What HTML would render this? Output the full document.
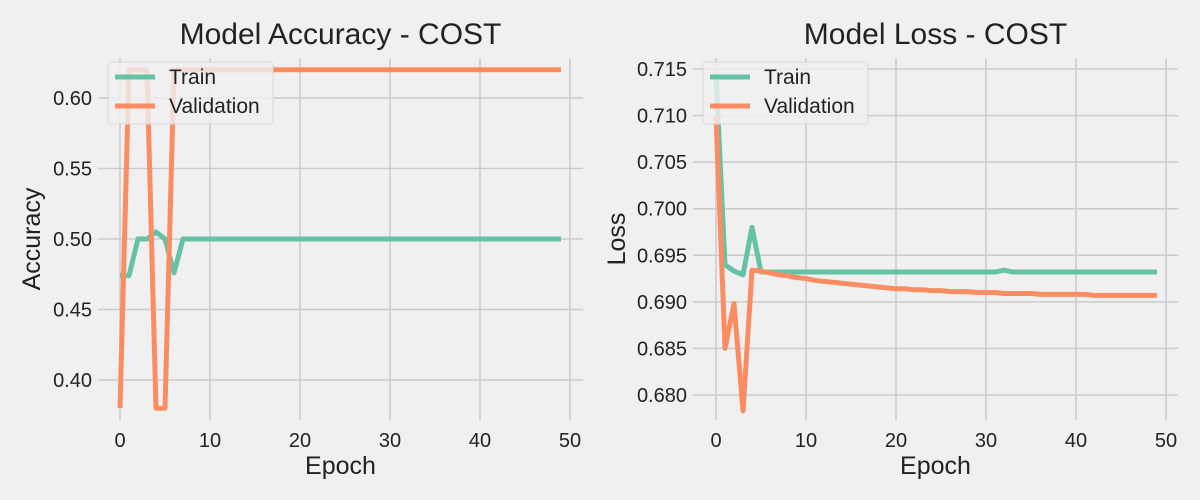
<!DOCTYPE html>
<html><head><meta charset="utf-8"><style>
body{margin:0;background:#f0f0f0;font-family:"Liberation Sans","DejaVu Sans",sans-serif}
svg{display:block}
</style></head><body>
<svg id="c" width="1200" height="500" xmlns="http://www.w3.org/2000/svg"></svg>
<script>
const epochs=[...Array(50).keys()];
const accTrain=[0.474,0.474,0.5,0.5,0.505,0.5,0.476].concat(Array(43).fill(0.5));
const accVal=[0.38,0.62,0.62,0.62,0.38,0.38,0.62].concat(Array(43).fill(0.62));
const lossTrain=[0.7145,0.694,0.6933,0.6929,0.698,0.6932].concat(Array(26).fill(0.6932),[0.6934],Array(17).fill(0.6932));
const lossVal=[0.7100,0.6850,0.6898,0.6783,0.6934,0.6933,0.6931,0.6929,0.6928,0.6926,0.6925,0.6923,0.6922,0.6921,0.6920,0.6919,0.6918,0.6917,0.6916,0.6915,0.6914,0.6914,0.6913,0.6913,0.6912,0.6912,0.6911,0.6911,0.6911,0.6910,0.6910,0.6910,0.6909,0.6909,0.6909,0.6909,0.6908,0.6908,0.6908,0.6908,0.6908,0.6908,0.6907,0.6907,0.6907,0.6907,0.6907,0.6907,0.6907,0.6907];
const xTicks=[0,10,20,30,40,50];
const accTicks=[0.40,0.45,0.50,0.55,0.60];
const lossTicks=[0.680,0.685,0.690,0.695,0.700,0.705,0.710,0.715];
const NS="http://www.w3.org/2000/svg";
const svg=document.getElementById('c');
function mk(t,a,p){const e=document.createElementNS(NS,t);for(const k in a)e.setAttribute(k,a[k]);(p||svg).appendChild(e);return e;}
function panel(o){
  const g=mk('g',{});
  
  
  const L=o.left,R=o.right,T=58,B=420;
  const X=v=>o.x0+v*9;
  const Y=v=>o.y0+(v-o.yref)*o.ys;
  xTicks.forEach(t=>{
    const l=mk('line',{x1:X(t),x2:X(t),y1:T,y2:B,stroke:'#cbcbcb','stroke-width':1.5},g);
    
    const tx=mk('text',{x:X(t),y:447,'text-anchor':'middle','font-size':20,fill:'#222'},g);tx.textContent=t;
    
  });
  o.yt.forEach(t=>{
    const l=mk('line',{x1:L,x2:R,y1:Y(t),y2:Y(t),stroke:'#cbcbcb','stroke-width':1.5},g);
    
    const tx=mk('text',{x:L-6,y:Y(t)+7,'text-anchor':'end','font-size':20,fill:'#222'},g);tx.textContent=t.toFixed(o.dec);
    
  });
  [[o.tr,'#66c2a5','train-line'],[o.va,'#fc8d62','validation-line']].forEach(([d,c,n])=>{
    const p=mk('polyline',{points:d.map((v,i)=>X(epochs[i])+','+Y(v)).join(' '),fill:'none',stroke:c,'stroke-width':5,'stroke-linejoin':'round'},g);
    
  });
  const t=mk('text',{x:(L+R)/2,y:44,'text-anchor':'middle','font-size':30,fill:'#222'},g);t.textContent=o.title;
  
  const xl=mk('text',{x:(L+R)/2,y:474,'text-anchor':'middle','font-size':25,fill:'#222'},g);xl.textContent='Epoch';
  
  const yx=o.ylx, yy=(T+B)/2;
  const yl=mk('text',{x:yx,y:yy,'text-anchor':'middle','font-size':25,fill:'#222',transform:`rotate(-90 ${yx} ${yy})`},g);yl.textContent=o.ylab;
  
  const lg=mk('g',{},g);
  mk('rect',{x:L+10,y:62,width:165,height:62,rx:3,fill:'#f0f0f0','fill-opacity':0.8,stroke:'#d8d8d8'},lg);
  [['Train','#66c2a5',77],['Validation','#fc8d62',106]].forEach(([n,c,y])=>{
    const e=mk('g',{},lg);
    mk('line',{x1:L+17,x2:L+57,y1:y,y2:y,stroke:c,'stroke-width':5},e);
    const tx=mk('text',{x:L+71,y:y+7,'font-size':21,fill:'#222'},e);tx.textContent=n;
  });
}
panel({name:'accuracy-chart',left:98,right:583,x0:120,yref:0.60,y0:98,ys:-1410,yt:accTicks,dec:2,tr:accTrain,va:accVal,title:'Model Accuracy - COST',ylab:'Accuracy',ylx:40});
panel({name:'loss-chart',left:693,right:1178,x0:716,yref:0.715,y0:69,ys:-9314,yt:lossTicks,dec:3,tr:lossTrain,va:lossVal,title:'Model Loss - COST',ylab:'Loss',ylx:625});
</script>
</body></html>
